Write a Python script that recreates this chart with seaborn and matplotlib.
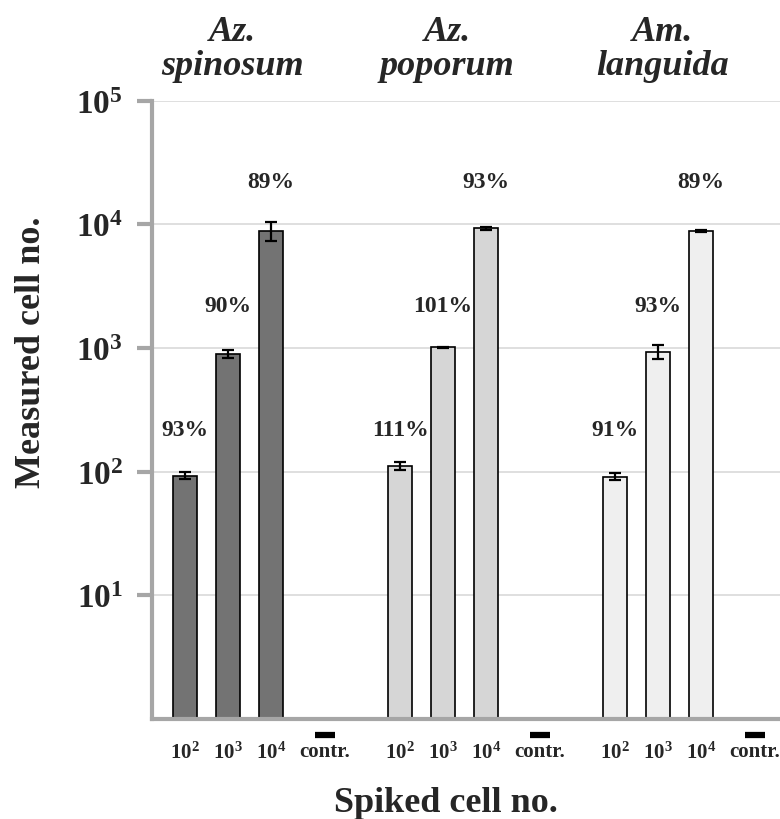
import matplotlib
matplotlib.use("Agg")
import matplotlib.pyplot as plt
import matplotlib.transforms as mtransforms
import seaborn as sns
import pandas as pd
import numpy as np

# ---- data ----
species = ["Az.\nspinosum", "Az.\npoporum", "Am.\nlanguida"]
spiked_labels = [r"$\mathbf{10^{2}}$", r"$\mathbf{10^{3}}$", r"$\mathbf{10^{4}}$"]
spiked_values = [100, 1000, 10000]
measured_spinosum = [93, 900, 8900]
measured_poporum = [111, 1010, 9300]
measured_languida = [91, 930, 8900]
err_spinosum = [6, 70, 1500]
err_poporum = [8, 15, 300]
err_languida = [6, 120, 150]
recovery_spinosum = ["93%", "90%", "89%"]
recovery_poporum = ["111%", "101%", "93%"]
recovery_languida = ["91%", "93%", "89%"]
control_label = "contr."
ytick_values = [10, 100, 1000, 10000, 100000]
ytick_labels = [r"$\mathbf{10^{1}}$", r"$\mathbf{10^{2}}$", r"$\mathbf{10^{3}}$",
                r"$\mathbf{10^{4}}$", r"$\mathbf{10^{5}}$"]
colors = ["#737373", "#d6d6d6", "#efefef"]

measured = [measured_spinosum, measured_poporum, measured_languida]
errs = [err_spinosum, err_poporum, err_languida]
recov = [recovery_spinosum, recovery_poporum, recovery_languida]

# layout positions (slots)
group_step = 5.0
bar_offsets = [0.0, 1.0, 2.0]
contr_offset = 3.25

rows = []
for gi, sp in enumerate(species):
    for bi in range(3):
        rows.append({"pos": gi * group_step + bar_offsets[bi],
                     "species": sp,
                     "value": measured[gi][bi],
                     "err": errs[gi][bi],
                     "rec": recov[gi][bi],
                     "spiked": spiked_values[bi]})
df = pd.DataFrame(rows)

sns.set_style("white")
plt.rcParams["font.family"] = ["Liberation Serif", "DejaVu Serif"]
plt.rcParams["font.weight"] = "bold"
plt.rcParams["mathtext.fontset"] = "custom"
plt.rcParams["mathtext.rm"] = "Liberation Serif:bold"
plt.rcParams["mathtext.bf"] = "Liberation Serif:bold"
plt.rcParams["mathtext.it"] = "Liberation Serif:bold:italic"

fig = plt.figure(figsize=(7.8, 8.2), dpi=100)
ax = fig.add_axes([0.195, 0.122, 0.805, 0.754])
ax.set_yscale("log")

sns.barplot(data=df, x="pos", y="value", hue="species", palette=colors,
            native_scale=True, dodge=False, width=0.56, edgecolor="black",
            linewidth=1.2, errorbar=None, legend=False, ax=ax)

ax.errorbar(df["pos"], df["value"], yerr=df["err"], fmt="none",
            ecolor="black", elinewidth=1.6, capsize=4, capthick=1.6, zorder=5)

ax.set_ylim(1, 1e5)
ax.set_xlim(-0.77, 13.84)

# percent labels
for _, r in df.iterrows():
    ax.text(r["pos"], r["spiked"] * 2.2, r["rec"], ha="center", va="center",
            fontsize=17, fontweight="bold")

trans = mtransforms.blended_transform_factory(ax.transData, ax.transAxes)

# species titles
for gi, sp in enumerate(species):
    ax.text(gi * group_step + 1.1, 1.03, sp, transform=trans,
            ha="center", va="bottom", fontsize=26, fontweight="bold", fontstyle="italic",
            linespacing=1.05)

# x ticks
xt, xl = [], []
for gi in range(3):
    for bi in range(3):
        xt.append(gi * group_step + bar_offsets[bi]); xl.append(spiked_labels[bi])
    xt.append(gi * group_step + contr_offset); xl.append(control_label)
ax.set_xticks(xt)
ax.set_xticklabels(xl, fontsize=15, fontweight="bold")
ax.tick_params(axis="x", length=0, pad=16)

# control dashes (measured = none)
cx = [gi * group_step + contr_offset for gi in range(3)]
ax.plot(cx, [-0.026] * 3, linestyle="none", marker="_", markersize=15, mew=4.5,
        color="black", transform=trans, clip_on=False)

# y ticks
ax.set_yticks(ytick_values)
ax.set_yticklabels(ytick_labels, fontsize=24, fontweight="bold")
ax.yaxis.set_minor_locator(matplotlib.ticker.NullLocator())
ax.tick_params(axis="y", length=11, width=3, color="#a6a6a6", pad=10, left=True)
ax.grid(axis="y", color="#d9d9d9", linewidth=1.2)
ax.set_axisbelow(True)

for s in ["top", "right"]:
    ax.spines[s].set_visible(False)
for s in ["left", "bottom"]:
    ax.spines[s].set_color("#a6a6a6")
    ax.spines[s].set_linewidth(3)

ax.set_xlabel("Spiked cell no.", fontsize=26, fontweight="bold")
ax.xaxis.set_label_coords(0.468, -0.108)
ax.set_ylabel("Measured cell no.", fontsize=26, fontweight="bold")
ax.yaxis.set_label_coords(-0.165, 0.594)

fig.savefig("out.png", dpi=100)
